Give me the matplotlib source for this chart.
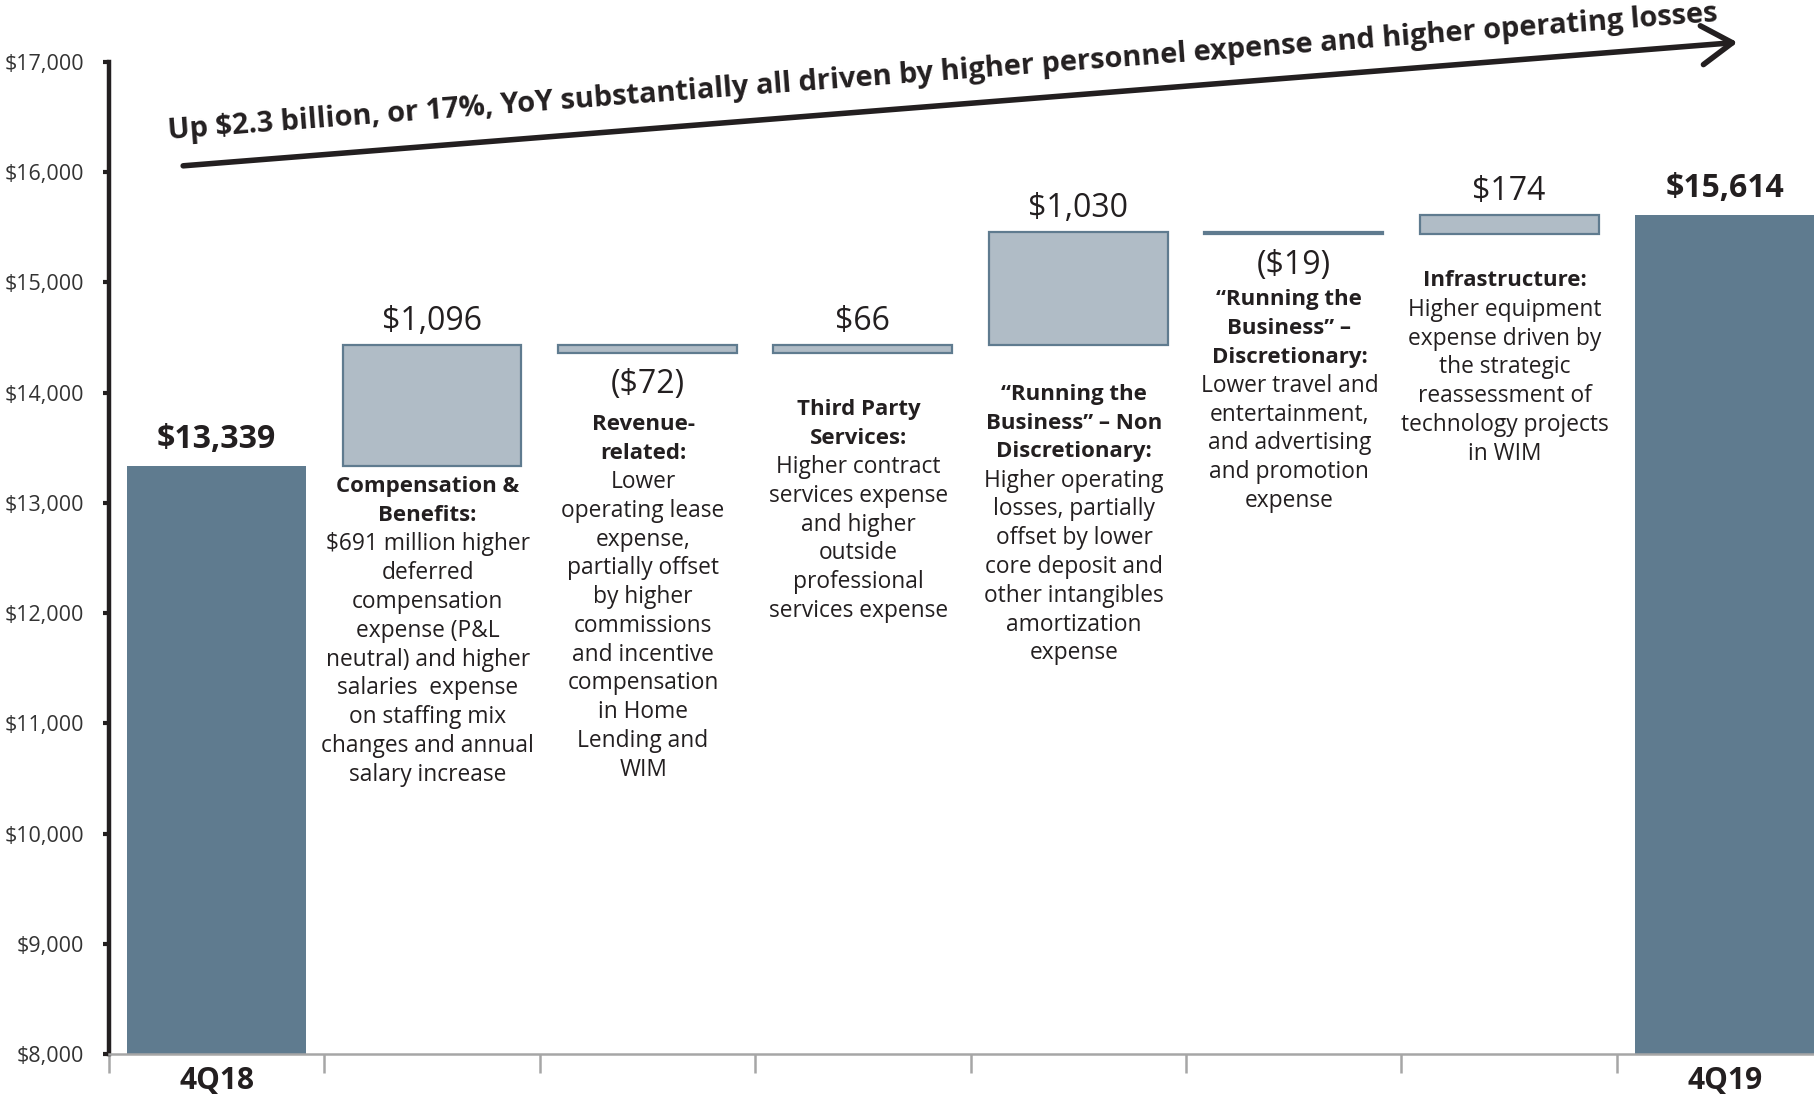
import matplotlib
matplotlib.use("Agg")
import matplotlib.pyplot as plt
import numpy as np

plt.rcParams['font.family'] = ['Open Sans', 'DejaVu Sans']

# ---- data -------------------------------------------------------------
categories = ["4Q18", "Comp", "Revenue", "ThirdParty", "RTB_ND", "RTB_D", "Infra", "4Q19"]
start_total = 13339
end_total = 15614
changes = [1096, -72, 66, 1030, -19, 174]
value_labels = ["$13,339", "$1,096", "($72)", "$66", "$1,030", "($19)", "$174", "$15,614"]
tick_labels = ["4Q18", "4Q19"]
y_ticks = [8000, 9000, 10000, 11000, 12000, 13000, 14000, 15000, 16000, 17000]

titles = [
    ["Compensation &", "Benefits:"],
    ["Revenue-", "related:"],
    ["Third Party", "Services:"],
    ["\u201cRunning the", "Business\u201d \u2013 Non", "Discretionary:"],
    ["\u201cRunning the", "Business\u201d \u2013", "Discretionary:"],
    ["Infrastructure:"],
]
bodies = [
    ["$691 million higher", "deferred", "compensation", "expense (P&L",
     "neutral) and higher", "salaries  expense", "on staffing mix",
     "changes and annual", "salary increase"],
    ["Lower", "operating lease", "expense,", "partially offset", "by higher",
     "commissions", "and incentive", "compensation", "in Home",
     "Lending and", "WIM"],
    ["Higher contract", "services expense", "and higher", "outside",
     "professional", "services expense"],
    ["Higher operating", "losses, partially", "offset by lower",
     "core deposit and", "other intangibles", "amortization", "expense"],
    ["Lower travel and", "entertainment,", "and advertising",
     "and promotion", "expense"],
    ["Higher equipment", "expense driven by", "the strategic",
     "reassessment of", "technology projects", "in WIM"],
]
headline = ("Up $2.3 billion, or 17%, YoY substantially all driven by "
            "higher personnel expense and higher operating losses")

# ---- styling ----------------------------------------------------------
DARK = "#5F7B8F"
LIGHT = "#B0BCC6"
TEXT = "#231F20"
AXIS_GRAY = "#A6A6A6"

fig = plt.figure(figsize=(18.14, 11.01), dpi=100)
ax = fig.add_axes([0.060, 0.0427, 0.940, 0.901])

x = np.arange(len(categories))
width = 0.83

# running totals for the floating bars
levels = start_total + np.concatenate([[0], np.cumsum(changes)])
float_bottoms = [min(levels[i], levels[i + 1]) for i in range(len(changes))]

# totals
ax.bar([x[0], x[-1]], [start_total, end_total], width=width, color=DARK,
       edgecolor="none", zorder=2)
# changes
ax.bar(x[1:-1], [abs(c) for c in changes], bottom=float_bottoms,
       width=width, color=LIGHT, edgecolor=DARK, linewidth=1.6, zorder=2)

ax.set_xlim(-0.5, 7.415)
ax.set_ylim(8000, 17000)

# value labels
last = len(categories) - 1
for i in range(len(categories)):
    if i == 0:
        top, neg = start_total, False
    elif i == last:
        top, neg = end_total, False
    else:
        c = changes[i - 1]
        neg = c < 0
        top = min(levels[i - 1], levels[i]) if neg else max(levels[i - 1], levels[i])
    if neg:
        ax.annotate(value_labels[i], (x[i], top), xytext=(0, -11),
                    textcoords="offset points", ha="center", va="top",
                    fontsize=23, color=TEXT)
    elif i in (0, last):
        ax.annotate(value_labels[i], (x[i], top), xytext=(0, 7),
                    textcoords="offset points", ha="center", va="bottom",
                    fontsize=23, fontweight="bold", color=TEXT)
    else:
        ax.annotate(value_labels[i], (x[i], top), xytext=(0, 5),
                    textcoords="offset points", ha="center", va="bottom",
                    fontsize=23, color=TEXT)

# explanatory notes under each change bar
first_line_y = [13145, 13711, 13847, 13984, 14844, 15013]
line_step = 261
for j, (t, b) in enumerate(zip(titles, bodies)):
    xc = x[j + 1] - 0.02
    y = first_line_y[j]
    for line in t:
        ax.text(xc, y, line, ha="center", va="center", fontsize=16,
                fontweight="bold", color=TEXT)
        y -= line_step
    for line in b:
        ax.text(xc, y, line, ha="center", va="center", fontsize=16.4,
                color=TEXT)
        y -= line_step

# headline arrow
ax.annotate("", xy=(7.06, 17178), xytext=(-0.155, 16058),
            arrowprops=dict(arrowstyle="->,head_length=0.55,head_width=0.35",
                            lw=4, color=TEXT, mutation_scale=40,
                            shrinkA=0, shrinkB=0),
            annotation_clip=False)
ax.text(-0.222, 16300, headline, rotation=4.35, rotation_mode="anchor",
        ha="left", va="baseline", fontsize=20.9, fontweight="bold",
        color=TEXT, clip_on=False)

# axes styling
for s in ("top", "right"):
    ax.spines[s].set_visible(False)
ax.spines["left"].set_linewidth(3.2)
ax.spines["left"].set_color(TEXT)
ax.spines["bottom"].set_color(AXIS_GRAY)
ax.spines["bottom"].set_linewidth(1.8)

ax.set_yticks(y_ticks)
ax.set_yticklabels([f"${v:,}" for v in y_ticks])
ax.tick_params(axis="y", direction="out", length=4, width=3, color=TEXT,
               labelsize=15.5, labelcolor="#333333", pad=14)

ax.set_xticks(np.arange(-0.5, 7.0, 1.0))
ax.set_xticklabels([])
ax.tick_params(axis="x", which="major", direction="out", length=14,
               width=1.8, color=AXIS_GRAY)
ax.set_xticks([x[0], x[-1]], minor=True)
ax.set_xticklabels(tick_labels, minor=True, fontsize=21.5,
                   fontweight="bold", color=TEXT)
ax.tick_params(axis="x", which="minor", length=0, pad=9)

fig.savefig("out.png", dpi=100)
